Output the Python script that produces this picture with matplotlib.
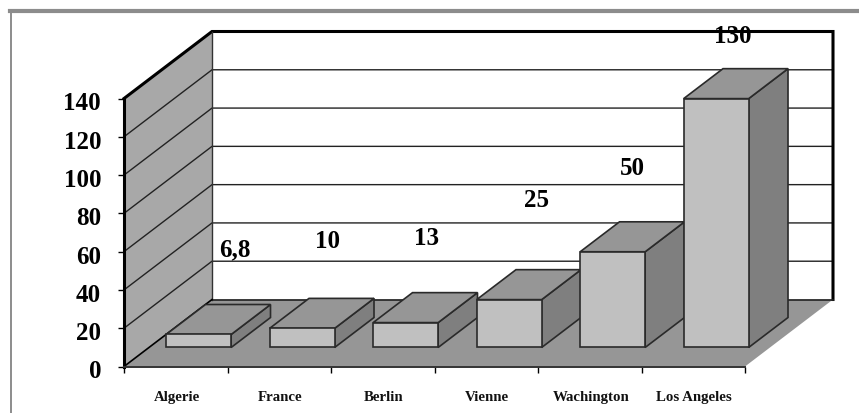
import matplotlib
matplotlib.use('Agg')
from matplotlib import pyplot as plt
from matplotlib.patches import Polygon
from matplotlib.transforms import ScaledTranslation

plt.rcParams['font.family'] = ['Liberation Serif', 'DejaVu Serif']
plt.rcParams['font.weight'] = 'bold'

cities = ['Algerie', 'France', 'Berlin', 'Vienne', 'Wachington', 'Los Angeles']
values = [6.8, 10, 13, 25, 50, 130]
value_labels = ['6,8', '10', '13', '25', '50', '130']
y_ticks = [0, 20, 40, 60, 80, 100, 120, 140]

# label offset from the top-left front corner of each bar, in pixels
label_offsets = [(69, 86), (58, 88), (53, 85), (60, 100), (52, 84), (49, 63)]

W, H = 859, 414
AX_L, AX_R, AX_TOP, AX_BOT = 124, 745, 99.5, 367.5
# 3d look: how far the back wall sits, in data units
DEPTH_X = 88 / ((AX_R - AX_L) / 6)
DEPTH_Y = 67 / ((AX_BOT - AX_TOP) / 140)
BAR_W = 65 / ((AX_R - AX_L) / 6)
BAR_D0, BAR_D1 = 0.284, 0.731

FLOOR = '#969696'
WALL = '#a8a8a8'
FRONT = '#c0c0c0'
SIDE = '#7f7f7f'
EDGE = '#2a2a2a'


def pt(x, y, d=0.0):
    return (x + d * DEPTH_X, y + d * DEPTH_Y)


def face(ax, pts, color, lw=1.2, ec=EDGE, z=3):
    ax.add_patch(Polygon(pts, closed=True, facecolor=color, edgecolor=ec,
                         linewidth=lw, clip_on=False, joinstyle='miter', zorder=z))


fig = plt.figure(figsize=(W / 100, H / 100), dpi=100)

# grey frame, open on the right and at the bottom
frame = fig.add_axes([0, 0, 1, 1])
frame.set_xlim(0, W)
frame.set_ylim(H, 0)
frame.axis('off')
frame.plot([11, 11], [H, 12], color='#8c8c8c', lw=1.4)
frame.plot([10, W], [12, 12], color='#8c8c8c', lw=3)

ax = fig.add_axes([AX_L / W, 1 - AX_BOT / H, (AX_R - AX_L) / W, (AX_BOT - AX_TOP) / H])
ax.patch.set_alpha(0)
ax.set_xlim(0, 6)
ax.set_ylim(0, 140)

# side wall and floor sit behind everything else
face(ax, [pt(0, 0), pt(0, 140), pt(0, 140, 1), pt(0, 0, 1)], WALL, lw=0, z=0.5)
face(ax, [pt(0, 0), pt(6, 0), pt(6, 0, 1), pt(0, 0, 1)], FLOOR, lw=0, z=0.5)

# gridlines run along the side wall and the back wall
for v in y_ticks[1:-1]:
    xs, ys = zip(pt(0, v), pt(0, v, 1), pt(6, v, 1))
    ax.plot(xs, ys, color='#222222', lw=1.0, clip_on=False, zorder=1)

# heavy outline of the walls
xs, ys = zip(pt(0, 140), pt(0, 140, 1), pt(6, 140, 1), pt(6, 0, 1))
ax.plot(xs, ys, color='black', lw=2.2, clip_on=False, solid_joinstyle='miter', zorder=1)
xs, ys = zip(pt(0, 0, 1), pt(0, 140, 1))
ax.plot(xs, ys, color='#333333', lw=1.0, clip_on=False, zorder=1)
xs, ys = zip(pt(0, 0, 1), pt(6, 0, 1))
ax.plot(xs, ys, color='#222222', lw=1.2, clip_on=False, zorder=1)
xs, ys = zip(pt(0, 0), pt(0, 0, 1))
ax.plot(xs, ys, color='black', lw=1.2, clip_on=False, zorder=1)

# bars, left to right so each one overlaps the side of the previous
for i, v in enumerate(values):
    x0 = i + (1 - BAR_W) / 2 - 0.02
    x1 = x0 + BAR_W
    face(ax, [pt(x1, 0, BAR_D0), pt(x1, 0, BAR_D1), pt(x1, v, BAR_D1), pt(x1, v, BAR_D0)], SIDE)
    face(ax, [pt(x0, v, BAR_D0), pt(x1, v, BAR_D0), pt(x1, v, BAR_D1), pt(x0, v, BAR_D1)], FLOOR)
    face(ax, [pt(x0, 0, BAR_D0), pt(x1, 0, BAR_D0), pt(x1, v, BAR_D0), pt(x0, v, BAR_D0)], FRONT)
    dx, dy = label_offsets[i]
    ax.annotate(value_labels[i], xy=pt(x0, v, BAR_D0), xytext=(dx * 0.72, dy * 0.72),
                textcoords='offset points', ha='center', va='center',
                fontsize=18, fontweight='bold', color='black', annotation_clip=False, zorder=10)

for side in ['top', 'right']:
    ax.spines[side].set_visible(False)
ax.spines['left'].set_linewidth(2.2)
ax.spines['bottom'].set_linewidth(1.4)
ax.spines['bottom'].set_color('#333333')

ax.set_yticks(y_ticks)
ax.set_yticklabels([str(t) for t in y_ticks], fontsize=18, fontweight='bold')
ax.tick_params(axis='y', length=4, width=1, pad=12.5)
shift = ScaledTranslation(0, -2 / 100, fig.dpi_scale_trans)
for lab in ax.get_yticklabels():
    lab.set_transform(lab.get_transform() + shift)

ax.set_xticks(range(7))
ax.set_xticklabels([])
ax.tick_params(axis='x', which='major', length=4, width=1)
ax.set_xticks([i + 0.51 for i in range(6)], minor=True)
ax.set_xticklabels(cities, minor=True, fontsize=10.7, fontweight='bold', color='#111111')
ax.tick_params(axis='x', which='minor', length=0, pad=17)

plt.savefig('out.png', dpi=100)
